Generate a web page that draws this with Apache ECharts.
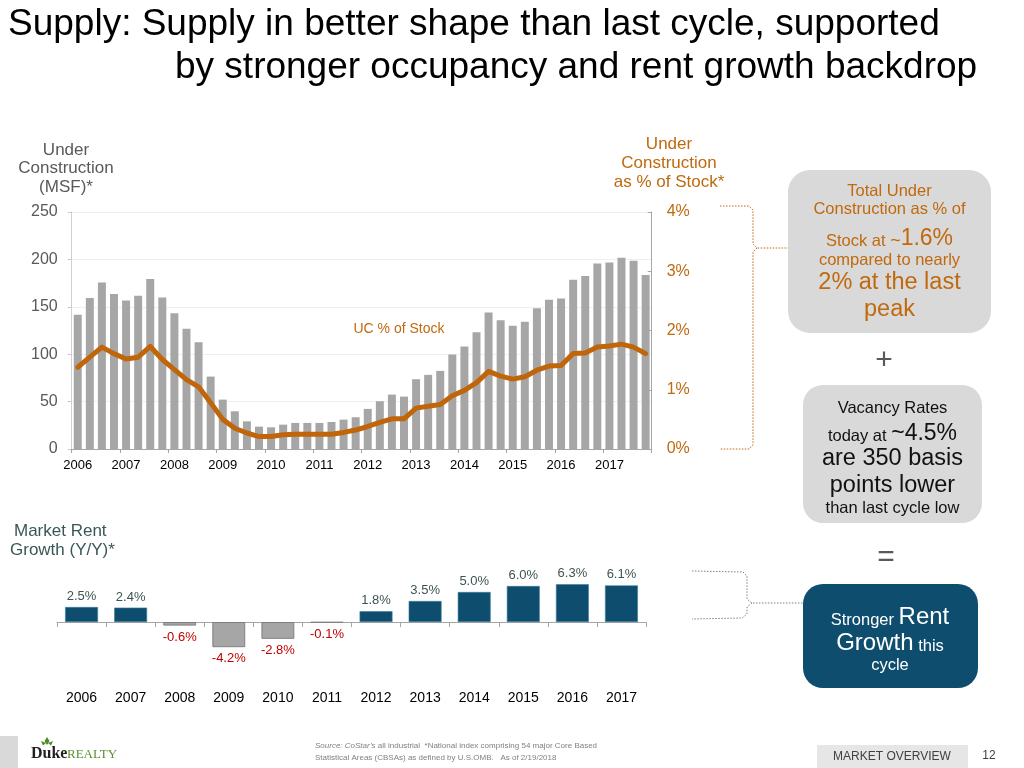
<!DOCTYPE html>
<html><head><meta charset="utf-8">
<script src="https://cdn.jsdelivr.net/npm/echarts@6/dist/echarts.min.js"></script>
<style>html,body{margin:0;padding:0;background:#fff}#c{width:1024px;height:768px}</style>
</head><body><div id="c"></div>
<script>
// ---------- data ----------
const years = ['2006','2007','2008','2009','2010','2011','2012','2013','2014','2015','2016','2017'];
const quarters = ['Q1','Q2','Q3','Q4'];
// Under construction (MSF), quarterly 2006Q1..2017Q4
const ucMsf = [141.5,159.2,175.7,163.4,156.7,161.6,179.2,159.9,143.3,126.8,112.7,76.4,
               52.1,39.8,29.2,23.6,22.9,25.7,27.5,27.5,27.5,28.5,31.0,33.5,
               42.3,50.4,57.4,55.3,73.6,78.2,82.4,99.6,108.1,123.2,144.0,135.9,
               129.9,134.2,148.6,157.4,158.8,178.5,182.4,195.8,196.8,201.8,198.6,183.5];
// Under construction as % of stock, quarterly
const ucPct = [1.38,1.55,1.72,1.61,1.52,1.55,1.73,1.51,1.34,1.17,1.05,0.78,
               0.50,0.35,0.27,0.21,0.21,0.24,0.25,0.25,0.25,0.25,0.28,0.32,
               0.38,0.45,0.51,0.51,0.69,0.72,0.75,0.90,0.99,1.12,1.31,1.23,
               1.18,1.22,1.33,1.40,1.41,1.61,1.62,1.72,1.74,1.77,1.72,1.61];
// Market rent growth (Y/Y, %)
const rentGrowth = [2.5,2.4,-0.6,-4.2,-2.8,-0.1,1.8,3.5,5.0,6.0,6.3,6.1];

const quarterCats = years.flatMap(y => quarters.map(q => y + ' ' + q));

// ---------- styles ----------
const FONT = "'Liberation Sans', Arial, Helvetica, sans-serif";
const ORANGE = '#C0690E';
const LINE_OR = '#C0650A';
const GREY_TXT = '#595959';
const NAVY = '#0E4D6E';

function txt(x, y, text, size, color, extra) {
  return {
    type: 'text', x: x, y: y, silent: true,
    style: Object.assign({
      text: text, fontSize: size, fontFamily: FONT, fill: color,
      align: 'center', verticalAlign: 'middle'
    }, extra || {})
  };
}
function rtxt(x, y, text, rich, color) {
  const r = {};
  Object.keys(rich).forEach(k => {
    r[k] = { fontSize: rich[k], fontFamily: FONT, fill: color, verticalAlign: 'bottom', lineHeight: 28 };
  });
  return { type: 'text', x: x, y: y, silent: true,
    style: { text: text, rich: r, align: 'center', verticalAlign: 'middle', fill: color, fontFamily: FONT } };
}

const graphics = [
  // title
  txt(8, 25, 'Supply: Supply in better shape than last cycle, supported', 37, '#000', {align: 'left'}),
  txt(175, 68, 'by stronger occupancy and rent growth backdrop', 37, '#000', {align: 'left'}),
  // left axis title
  txt(66, 150, 'Under', 17, GREY_TXT),
  txt(66, 168, 'Construction', 17, GREY_TXT),
  txt(66, 187, '(MSF)*', 17, GREY_TXT),
  // right axis title
  txt(669, 144, 'Under', 17, ORANGE),
  txt(669, 163, 'Construction', 17, ORANGE),
  txt(669, 182, 'as % of Stock*', 17, ORANGE),
  // line label
  txt(399, 329, 'UC % of Stock', 14, ORANGE),
  // rent title
  txt(14, 531, 'Market Rent', 17, '#3A5757', {align: 'left'}),
  txt(10, 550, 'Growth (Y/Y)*', 17, '#3A5757', {align: 'left'}),
  // braces
  { type: 'polyline', silent: true, shape: { points: [[720,206],[749,206],[753,210],[753,244],[757,248],[790,248]] },
    style: { stroke: ORANGE, lineWidth: 1, lineDash: [1.5,1.5], fill: null } },
  { type: 'polyline', silent: true, shape: { points: [[757,248],[753,252],[753,445],[749,449],[720,449]] },
    style: { stroke: ORANGE, lineWidth: 1, lineDash: [1.5,1.5], fill: null } },
  { type: 'polyline', silent: true, shape: { points: [[692,571],[743,572],[747,576],[747,599],[752,603],[803,603]] },
    style: { stroke: '#808080', lineWidth: 1, lineDash: [1.5,1.5], fill: null } },
  { type: 'polyline', silent: true, shape: { points: [[752,603],[747,607],[747,614],[742,618],[692,619]] },
    style: { stroke: '#808080', lineWidth: 1, lineDash: [1.5,1.5], fill: null } },
  // box 1
  { type: 'rect', silent: true, shape: { x: 788, y: 170, width: 203, height: 163, r: 22 }, style: { fill: '#D9D9D9' } },
  txt(889.5, 191, 'Total Under', 16.5, ORANGE),
  txt(889.5, 209, 'Construction as % of', 16.5, ORANGE),
  rtxt(889.5, 236, '{s|Stock at }{m|~}{b|1.6%}', {s: 16.5, m: 18, b: 23}, ORANGE),
  txt(889.5, 260, 'compared to nearly', 16.5, ORANGE),
  txt(889.5, 283, '2% at the last', 23.5, ORANGE),
  txt(889.5, 310, 'peak', 23.5, ORANGE),
  // plus
  txt(884, 361, '+', 30, GREY_TXT),
  // box 2
  { type: 'rect', silent: true, shape: { x: 803, y: 385, width: 179, height: 138, r: 20 }, style: { fill: '#D9D9D9' } },
  txt(892.5, 408, 'Vacancy Rates', 16.5, '#111'),
  rtxt(892.5, 431, '{s|today at }{b|~4.5%}', {s: 16.5, b: 23}, '#111'),
  txt(892.5, 459, 'are 350 basis', 23.5, '#111'),
  txt(892.5, 486, 'points lower', 23.5, '#111'),
  txt(892.5, 508, 'than last cycle low', 16.5, '#111'),
  // equals
  txt(886, 558, '=', 30, GREY_TXT),
  // box 3
  { type: 'rect', silent: true, shape: { x: 803, y: 584, width: 175, height: 104, r: 20 }, style: { fill: NAVY } },
  rtxt(890, 615, '{s|Stronger }{b|Rent}', {s: 16.5, b: 24}, '#fff'),
  rtxt(890, 641, '{b|Growth}{s| this}', {s: 16.5, b: 24}, '#fff'),
  txt(890, 665, 'cycle', 16.5, '#fff'),
  // footer
  { type: 'rect', silent: true, shape: { x: 0, y: 736, width: 18, height: 32 }, style: { fill: '#D9D9D9' } },
  { type: 'polygon', silent: true, shape: { points: [[47,737],[49.5,741],[47,745],[44.5,741]] }, style: { fill: '#4E8A2A' } },
  { type: 'polygon', silent: true, shape: { points: [[41,741],[46,743],[43,745.5]] }, style: { fill: '#4E8A2A' } },
  { type: 'polygon', silent: true, shape: { points: [[53,741],[48,743],[51,745.5]] }, style: { fill: '#4E8A2A' } },
  txt(31, 754, 'Duke', 16, '#231F20', {align: 'left', fontWeight: 'bold', fontFamily: "'Liberation Serif', serif"}),
  txt(67, 755, 'REALTY', 13, '#5A8F2E', {align: 'left', fontFamily: "'Liberation Serif', serif"}),
  { type: 'text', x: 315, y: 746, silent: true,
    style: { text: '{i|Source: CoStar’s}{n| all industrial  *National index comprising 54 major Core Based}',
      align: 'left', verticalAlign: 'middle', fontFamily: FONT, fill: '#808080',
      rich: { i: { fontSize: 8, fontStyle: 'italic', fill: '#808080', fontFamily: FONT },
              n: { fontSize: 8, fill: '#808080', fontFamily: FONT } } } },
  txt(315, 758, 'Statistical Areas (CBSAs) as defined by U.S.OMB.   As of 2/19/2018', 8, '#808080', {align: 'left'}),
  { type: 'rect', silent: true, shape: { x: 817, y: 745, width: 151, height: 23 }, style: { fill: '#E7E6E6' } },
  txt(892, 757, 'MARKET OVERVIEW', 12, '#404040'),
  txt(989, 756, '12', 12, '#404040')
];

const option = {
  animation: false,
  backgroundColor: '#fff',
  textStyle: { fontFamily: FONT },
  grid: [
    { left: 71.7, top: 212, width: 580, height: 237 },
    { left: 57, top: 580, width: 589, height: 72 }
  ],
  xAxis: [
    { type: 'category', gridIndex: 0, data: quarterCats, boundaryGap: true,
      axisLine: { lineStyle: { color: '#A6A6A6', width: 1 } },
      axisTick: { show: true, length: 4, interval: i => i % 4 === 0, lineStyle: { color: '#A6A6A6' } },
      axisLabel: { interval: i => i % 4 === 0, formatter: v => v.slice(0, 4), color: '#000', fontSize: 13, margin: 10 }
    },
    { type: 'category', gridIndex: 1, data: years, boundaryGap: true,
      axisLine: { onZero: true, lineStyle: { color: '#A6A6A6', width: 1 } },
      axisTick: { show: true, length: 5, lineStyle: { color: '#A6A6A6' } },
      axisLabel: { color: '#000', fontSize: 14, margin: 39 }
    }
  ],
  yAxis: [
    { type: 'value', gridIndex: 0, min: 0, max: 250, interval: 50, position: 'left',
      axisLine: { show: true, lineStyle: { color: '#D0D0D0' } },
      axisTick: { show: true, length: 4, lineStyle: { color: '#C8C8C8' } },
      axisLabel: { color: GREY_TXT, fontSize: 16, margin: 14 },
      splitLine: { show: true, lineStyle: { color: '#EFEFEF' } }
    },
    { type: 'value', gridIndex: 0, min: 0, max: 4, interval: 1, position: 'right',
      axisLine: { show: true, lineStyle: { color: '#A6A6A6' } },
      axisTick: { show: true, inside: true, length: 4, lineStyle: { color: '#A6A6A6' } },
      axisLabel: { color: ORANGE, fontSize: 16, margin: 15, formatter: '{value}%' },
      splitLine: { show: false }
    },
    { type: 'value', gridIndex: 1, min: -5, max: 7, show: false }
  ],
  series: [
    { type: 'bar', xAxisIndex: 0, yAxisIndex: 0, data: ucMsf, barCategoryGap: '34%',
      itemStyle: { color: '#A6A6A6' }, z: 2 },
    { type: 'line', xAxisIndex: 0, yAxisIndex: 1, data: ucPct, symbol: 'none', z: 3,
      lineStyle: { color: LINE_OR, width: 5, cap: 'round', join: 'round' } },
    { type: 'bar', xAxisIndex: 1, yAxisIndex: 2, barCategoryGap: '33%',
      data: rentGrowth.map(v => ({
        value: v,
        itemStyle: v >= 0 ? { color: NAVY, borderColor: '#3C7FA0', borderWidth: 0.6 }
                          : { color: '#A6A6A6', borderColor: '#7F7F7F', borderWidth: 1 },
        label: v >= 0 ? { show: true, position: 'top', distance: 4, color: '#3E5353', fontSize: 13 }
                      : { show: true, position: 'bottom', distance: 5, color: '#C00000', fontSize: 13 }
      })),
      label: { formatter: p => p.value.toFixed(1) + '%' }
    }
  ],
  graphic: { elements: graphics }
};

const chart = echarts.init(document.getElementById('c'), null, { renderer: 'canvas' });
chart.setOption(option);
</script>
</body></html>
